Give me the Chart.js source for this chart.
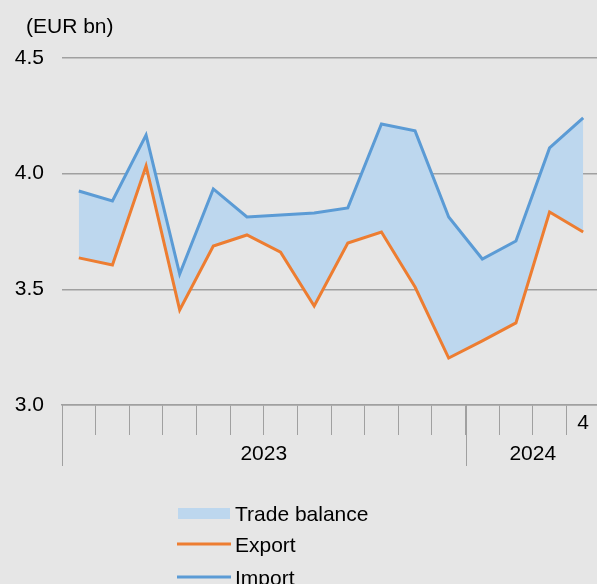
<!DOCTYPE html>
<html><head><meta charset="utf-8">
<script src="https://cdn.jsdelivr.net/npm/chart.js@4"></script>
<style>html,body{margin:0;padding:0;overflow:hidden;background:#e6e6e6;}canvas{display:block;}</style>
</head><body>
<canvas id="c" width="601" height="584"></canvas>
<script>
const categories = ['2023-01','2023-02','2023-03','2023-04','2023-05','2023-06','2023-07','2023-08','2023-09','2023-10','2023-11','2023-12','2024-01','2024-02','2024-03','2024-04'];
const tickLabels = ['','','','','','','','','','','','','','','','4'];
const importValues = [3.925,3.882,4.167,3.566,3.934,3.813,3.821,3.830,3.852,4.215,4.185,3.813,3.631,3.709,4.111,4.241];
const exportValues = [3.636,3.605,4.033,3.411,3.687,3.735,3.661,3.428,3.700,3.748,3.510,3.203,3.277,3.355,3.834,3.748];
const seriesNames = ['Import','Export'];
const balanceName = 'Trade balance';
const unitLabel = '(EUR bn)';

const FONT = "'Liberation Sans', Arial, Helvetica, sans-serif";
const BLUE = '#5b9bd5', ORANGE = '#ed7d31', FILL = '#bdd7ee', GRID = '#a0a0a0';

const extras = {
  id: 'extras',
  afterDraw(chart) {
    const ctx = chart.ctx;
    const xs = chart.scales.x;
    ctx.save();
    ctx.fillStyle = '#000';
    ctx.font = '21px ' + FONT;
    ctx.textBaseline = 'middle';
    ctx.textAlign = 'left';
    ctx.fillText(unitLabel, 26, 27);

    // year groups
    const years = categories.map(c => c.slice(0,4));
    const groups = [];
    years.forEach((y, i) => {
      if (!groups.length || groups[groups.length-1].year !== y) groups.push({year: y, start: i, end: i});
      else groups[groups.length-1].end = i;
    });
    const edge = (i) => {
      if (i <= 0) return xs.left;
      if (i >= categories.length) return xs.right;
      return (xs.getPixelForValue(i-1) + xs.getPixelForValue(i)) / 2;
    };
    const axisY = xs.top;
    ctx.strokeStyle = GRID;
    ctx.lineWidth = 1;
    groups.forEach(g => {
      const x0 = Math.round(edge(g.start)) + 0.5;
      ctx.beginPath(); ctx.moveTo(x0, axisY); ctx.lineTo(x0, axisY + 61); ctx.stroke();
      const xc = (edge(g.start) + edge(g.end + 1)) / 2;
      ctx.textAlign = 'center';
      ctx.fillText(g.year, xc, axisY + 49);
    });

    // legend
    const ds = chart.data.datasets;
    ctx.textAlign = 'left';
    ctx.fillStyle = ds[0].backgroundColor;
    ctx.fillRect(178, 508, 52, 11);
    ctx.fillStyle = '#000';
    ctx.fillText(balanceName, 235, 515);
    const rows = [{d: ds[1], y: 544}, {d: ds[0], y: 577}];
    rows.forEach(r => {
      ctx.strokeStyle = r.d.borderColor;
      ctx.lineWidth = 3;
      ctx.beginPath(); ctx.moveTo(177, r.y); ctx.lineTo(231, r.y); ctx.stroke();
      ctx.fillStyle = '#000';
      ctx.fillText(r.d.label, 235, r.y + 2);
    });
    ctx.restore();
  }
};

new Chart(document.getElementById('c'), {
  type: 'line',
  data: {
    labels: categories,
    datasets: [
      {label: seriesNames[0], data: importValues, borderColor: BLUE, borderWidth: 3, pointRadius: 0, tension: 0, fill: {target: 1}, backgroundColor: FILL},
      {label: seriesNames[1], data: exportValues, borderColor: ORANGE, borderWidth: 3, pointRadius: 0, tension: 0, fill: false, backgroundColor: ORANGE}
    ]
  },
  options: {
    responsive: false,
    animation: false,
    layout: {padding: {top: 58, right: 1, bottom: 139, left: 0}},
    plugins: {
      legend: {display: false},
      title: {display: false},
      tooltip: {enabled: false},
      filler: {drawTime: 'beforeDatasetsDraw'}
    },
    scales: {
      x: {
        type: 'category',
        offset: true,
        grid: {offset: true, drawOnChartArea: false, drawTicks: true, tickLength: 30, color: GRID, lineWidth: 1},
        border: {display: true, color: GRID, width: 1.5},
        ticks: {autoSkip: false, maxRotation: 0, minRotation: 0, padding: -24, color: '#000', font: {family: FONT, size: 21},
          callback: (v, i) => tickLabels[i]},
        afterFit: s => { s.height = 40; }
      },
      y: {
        min: 3, max: 4.5,
        grid: {color: GRID, lineWidth: 1.5, drawTicks: false},
        border: {display: false},
        ticks: {stepSize: 0.5, padding: 18, color: '#000', font: {family: FONT, size: 21}, callback: v => Number(v).toFixed(1)},
        afterFit: s => { s.width = 62; }
      }
    }
  },
  plugins: [extras]
});
</script>
</body></html>
